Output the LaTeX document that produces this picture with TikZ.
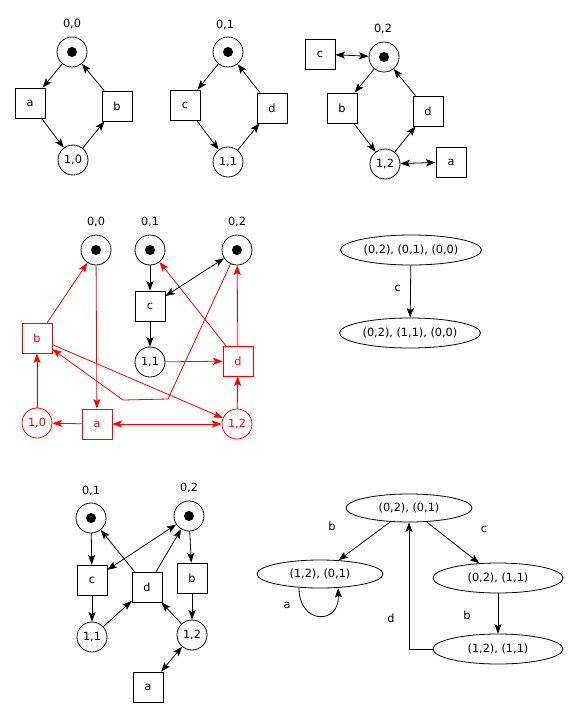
\documentclass[tikz,border=0pt]{standalone}
\usepackage{fontspec}
\setmainfont{DejaVu Sans}
\usetikzlibrary{shapes.geometric,arrows.meta}
\begin{document}
\begin{tikzpicture}[x=1pt,y=-1pt,
  every node/.style={font=\fontsize{11.3}{13}\selectfont},
  pl/.style={draw, circle, minimum size=30pt, inner sep=0pt, line width=0.8pt},
  tok/.style={path picture={\fill[black] (path picture bounding box.center) circle (5pt);}},
  tr/.style={draw, rectangle, minimum size=30pt, inner sep=0pt, line width=0.8pt},
  st/.style={draw, ellipse, inner sep=0pt, line width=0.8pt},
  arc/.style={-{Stealth[length=9.5pt,width=7pt,inset=2pt]}, line width=0.8pt},
  darc/.style={{Stealth[length=9.5pt,width=7pt,inset=2pt]}-{Stealth[length=9.5pt,width=7pt,inset=2pt]}, line width=0.8pt},
  hot/.style={red, text=red}
]
\useasboundingbox (0,0) rectangle (575,716);

% ---------- net A (top left)
\node[pl,tok] (A00) at (72,52) {};
\node (A00l) at (72,24) {0,0};
\node[tr] (Aa) at (30,103) {a};
\node[tr] (Ab) at (117,106) {b};
\node[pl] (A10) at (73,160) {1,0};
\draw[arc] (A00) -- (Aa);
\draw[arc] (Aa) -- (A10);
\draw[arc] (A10) -- (Ab);
\draw[arc] (Ab) -- (A00);

% ---------- net B (top middle)
\node[pl,tok] (B01) at (228,52) {};
\node (B01l) at (225,25) {0,1};
\node[tr] (Bc) at (185,105) {c};
\node[tr] (Bd) at (272,108) {d};
\node[pl] (B11) at (228,162) {1,1};
\draw[arc] (B01) -- (Bc);
\draw[arc] (Bc) -- (B11);
\draw[arc] (B11) -- (Bd);
\draw[arc] (Bd) -- (B01);

% ---------- net C (top right)
\node[tr] (Cc) at (320,54) {c};
\node[pl,tok] (C02) at (384,57) {};
\node (C02l) at (383,29) {0,2};
\node[tr] (Cb) at (342,108) {b};
\node[tr] (Cd) at (428,111) {d};
\node[pl] (C12) at (385,164) {1,2};
\node[tr] (Ca) at (451,162) {a};
\draw[darc] (Cc) -- (C02);
\draw[arc] (C02) -- (Cb);
\draw[arc] (Cb) -- (C12);
\draw[arc] (C12) -- (Cd);
\draw[arc] (Cd) -- (C02);
\draw[darc] (C12) -- (Ca);

% ---------- product net (middle)
\node[pl,tok] (M00) at (96,250) {};
\node (M00l) at (96,222) {0,0};
\node[pl,tok] (M01) at (150,250) {};
\node (M01l) at (150,222) {0,1};
\node[pl,tok] (M02) at (237,250) {};
\node (M02l) at (237,222) {0,2};
\node[tr] (Mc) at (150,306) {c};
\node[tr,hot] (Mb) at (37,338) {b};
\node[pl] (M11) at (150,362) {1,1};
\node[tr,hot] (Md) at (238,361) {d};
\node[pl,hot] (M10) at (37,423) {1,0};
\node[tr,hot] (Ma) at (97,424) {a};
\node[pl,hot] (M12) at (237,424) {1,2};
\coordinate (Mk1) at (168,399);
\coordinate (Mk2) at (123,400);
\draw[arc,red] (M00) -- (Ma);
\draw[arc,red] (Mb) -- (M00);
\draw[arc,red] (M10) -- (Mb);
\draw[arc,red] (Ma) -- (M10);
\draw[darc,red] (Ma) -- (M12);
\draw[arc,red] (Mb) -- (M12);
\draw[arc,red] (M02) -- (Mk1) -- (Mk2) -- (Mb);
\draw[arc,red] (Md) -- (M01);
\draw[arc,red] (Md) -- (M02);
\draw[arc,red] (M12) -- (Md);
\draw[arc,red] (M11) -- (Md);
\draw[arc] (M01) -- (Mc);
\draw[arc] (Mc) -- (M11);
\draw[darc] (Mc) -- (M02);

% ---------- first state graph (middle right)
\node[st, minimum width=141pt, minimum height=30pt] (S1) at (411,250) {(0,2), (0,1), (0,0)};
\node[st, minimum width=141pt, minimum height=30pt] (S2) at (410,333) {(0,2), (1,1), (0,0)};
\draw[arc] (S1) -- (S2) node[pos=0.45, left=6pt] {c};

% ---------- reduced net (bottom left)
\node[pl,tok] (R01) at (91,518) {};
\node (R01l) at (91,491) {0,1};
\node[pl,tok] (R02) at (189,516) {};
\node (R02l) at (189,488) {0,2};
\node[tr] (Rc) at (92,580) {c};
\node[tr] (Rd) at (147,587) {d};
\node[tr] (Rb) at (192,578) {b};
\node[pl] (R11) at (92,637) {1,1};
\node[pl] (R12) at (192,635) {1,2};
\node[tr] (Ra) at (148,687) {a};
\draw[arc] (R01) -- (Rc);
\draw[darc] (Rc) -- (R02);
\draw[arc] (Rd) -- (R01);
\draw[arc] (Rd) -- (R02);
\draw[arc] (R02) -- (Rb);
\draw[arc] (Rb) -- (R12);
\draw[arc] (Rc) -- (R11);
\draw[arc] (R11) -- (Rd);
\draw[arc] (R12) -- (Rd);
\draw[darc] (Ra) -- (R12);

% ---------- second state graph (bottom right)
\node[st, minimum width=126pt, minimum height=28pt] (E1) at (409,508) {(0,2), (0,1)};
\node[st, minimum width=126pt, minimum height=28pt] (E2) at (320,574) {(1,2), (0,1)};
\node[st, minimum width=130pt, minimum height=30pt] (E3) at (498,578) {(0,2), (1,1)};
\node[st, minimum width=130pt, minimum height=30pt] (E4) at (498,649) {(1,2), (1,1)};
\draw[arc] (E1) -- (E2);
\node (Lb1) at (332,526) {b};
\draw[arc] (E1) -- (E3);
\node (Lc) at (484,529) {c};
\draw[arc] (E3) -- (E4);
\node (Lb2) at (467,615) {b};
\draw[arc] (E4.west) -| (E1.south);
\node (Ld) at (391,618) {d};
\coordinate (E2s) at (299,588);
\coordinate (E2e) at (338,588);
\draw[arc] (E2s) .. controls (299,625) and (340,625) .. (E2e);
\node (La) at (287,605) {a};
\end{tikzpicture}
\end{document}
